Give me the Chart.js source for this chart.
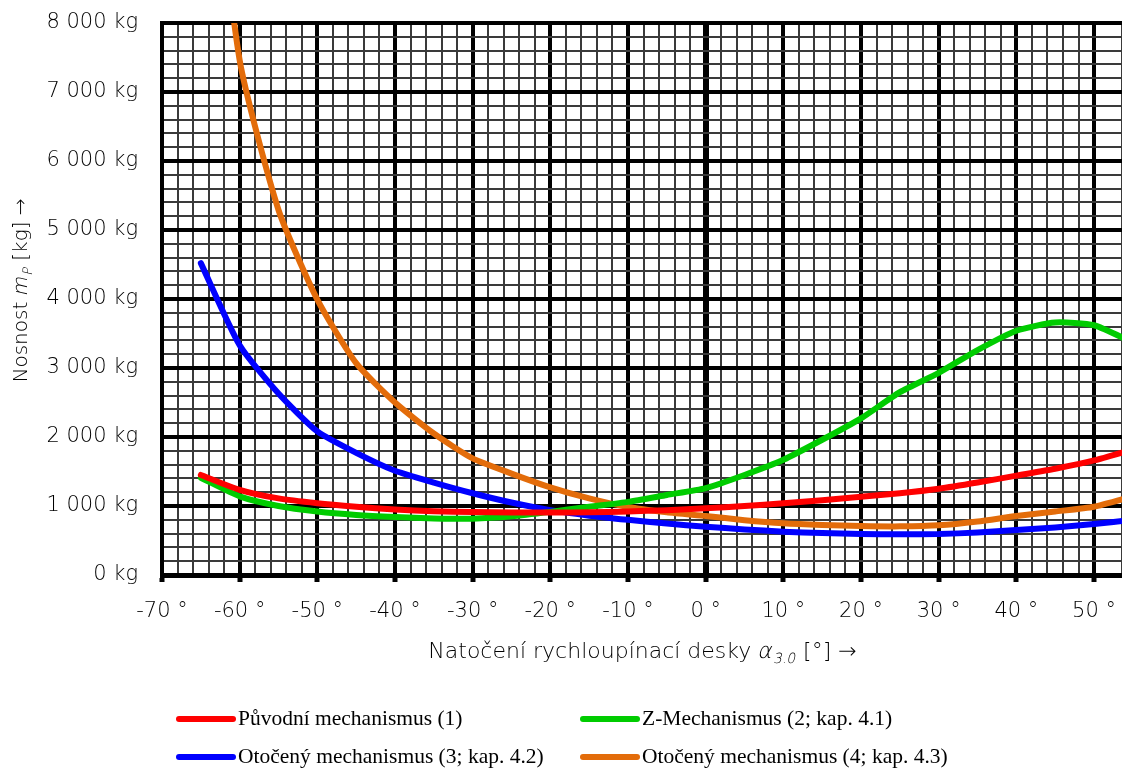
<!DOCTYPE html>
<html>
<head>
<meta charset="utf-8">
<script src="https://cdn.jsdelivr.net/npm/chart.js@4"></script>
<style>
  body { margin: 0; background: #fff; }
  #wrap { position: relative; width: 1122px; height: 773px; }
  #legend { position: absolute; left: 0; top: 0; width: 1122px; height: 773px; pointer-events: none;
            font-family: "Liberation Serif", "Times New Roman", serif; font-size: 21.5px; color: #000; }
  .item { position: absolute; display: flex; align-items: center; white-space: nowrap; }
  .swatch { width: 60px; height: 6px; border-radius: 3px; margin-right: 2px; }
</style>
</head>
<body>
<div id="wrap">
  <canvas id="chart" width="1122" height="773"></canvas>
  <div id="legend"></div>
</div>
<script>
// Data
const angles = [-65, -60, -55, -50, -45, -40, -35, -30, -25, -20, -15, -10, -5, 0, 5, 10, 15, 20, 25, 30, 35, 40, 45, 50, 55];
const puvodni = [1450, 1235, 1110, 1040, 990, 950, 925, 912, 905, 905, 910, 920, 940, 966, 1000, 1040, 1085, 1135, 1185, 1250, 1340, 1440, 1540, 1660, 1820];
const zMech = [1410, 1140, 1000, 920, 870, 840, 820, 815, 850, 915, 990, 1060, 1160, 1260, 1450, 1670, 1960, 2270, 2650, 2930, 3260, 3540, 3660, 3620, 3370];
const otoceny3 = [4520, 3330, 2630, 2080, 1770, 1510, 1340, 1185, 1050, 940, 860, 800, 745, 700, 660, 628, 608, 595, 590, 594, 615, 652, 690, 740, 800];
const otoceny4 = [12000, 7460, 5290, 3990, 3070, 2500, 2050, 1690, 1470, 1270, 1110, 985, 910, 855, 795, 750, 725, 710, 705, 720, 775, 855, 920, 990, 1140];

const labels = ['Původní mechanismus (1)', 'Z-Mechanismus (2; kap. 4.1)', 'Otočený mechanismus (3; kap. 4.2)', 'Otočený mechanismus (4; kap. 4.3)'];
const colors = ['#ff0000', '#00cc00', '#0000ff', '#e36c0a'];
const series = [puvodni, zMech, otoceny3, otoceny4];

const xMin = -70, xMax = 53.6;
const yMin = 0, yMax = 8000;

const tickFont = '"DejaVu Sans", sans-serif';

// Axis titles with slanted symbols and subscripts
const axisTitles = {
  id: 'axisTitles',
  afterDraw(chart) {
    const ctx = chart.ctx;
    const area = chart.chartArea;

    function drawParts(parts, cx, cy, size) {
      const big = '300 ' + size + 'px ' + tickFont;
      const small = '300 ' + Math.round(size * 0.64) + 'px ' + tickFont;
      let w = 0;
      parts.forEach(p => { ctx.font = p.sub ? small : big; w += ctx.measureText(p.text).width; });
      let x = cx - w / 2;
      parts.forEach(p => {
        ctx.font = p.sub ? small : big;
        ctx.save();
        ctx.translate(x, cy + (p.sub ? size * 0.32 : 0));
        if (p.slant) ctx.transform(1, 0, -0.22, 1, 0, 0);
        ctx.fillText(p.text, 0, 0);
        ctx.restore();
        x += ctx.measureText(p.text).width + (p.slant && !p.sub ? 1 : 0);
      });
    }

    ctx.save();
    ctx.fillStyle = '#000';
    ctx.textBaseline = 'middle';
    ctx.textAlign = 'left';
    drawParts([
      { text: 'Natočení rychloupínací desky ' },
      { text: 'α', slant: true },
      { text: '3.0', slant: true, sub: true },
      { text: ' [°] →' }
    ], (area.left + area.right) / 2, 652, 22);

    ctx.translate(22, 291);
    ctx.rotate(-Math.PI / 2);
    drawParts([
      { text: 'Nosnost ' },
      { text: 'm', slant: true },
      { text: 'P', slant: true, sub: true },
      { text: ' [kg] →' }
    ], 0, 0, 20);
    ctx.restore();
  }
};

new Chart(document.getElementById('chart'), {
  type: 'line',
  data: {
    datasets: series.map((s, i) => ({
      label: labels[i],
      data: angles.map((a, j) => ({ x: a, y: s[j] })),
      borderColor: colors[i],
      backgroundColor: colors[i],
      borderWidth: 6,
      pointRadius: 0,
      tension: 0.2,
      borderCapStyle: 'round',
      borderJoinStyle: 'round'
    }))
  },
  options: {
    responsive: false,
    animation: false,
    layout: { padding: { top: 23, left: 0, right: 0, bottom: 0 } },
    plugins: {
      legend: { display: false },
      tooltip: { enabled: false }
    },
    scales: {
      x: {
        type: 'linear',
        min: xMin,
        max: xMax,
        afterFit(axis) { axis.height = 198; axis.paddingLeft = 0; axis.paddingRight = 0; },
        border: { display: true, width: 5, color: '#000' },
        grid: {
          drawOnChartArea: true,
          lineWidth: c => c.tick.value % 10 === 0 ? (c.tick.value === 0 ? 6 : 4) : 2,
          color: c => c.tick.value % 10 === 0 ? '#000' : '#3a3a3a',
          tickLength: 7,
          tickWidth: 5,
          tickColor: c => c.tick && c.tick.value % 10 === 0 ? '#000' : 'rgba(0,0,0,0)'
        },
        ticks: {
          stepSize: 2,
          autoSkip: false,
          maxRotation: 0,
          padding: 17,
          color: '#000',
          font: { family: tickFont, size: 21, weight: 300 },
          callback: v => v % 10 === 0 ? v + ' °' : ''
        }
      },
      y: {
        min: yMin,
        max: yMax,
        afterFit(axis) { axis.width = 162; axis.paddingTop = 0; axis.paddingBottom = 0; },
        border: { display: true, width: 4, color: '#000' },
        grid: {
          drawTicks: false,
          lineWidth: c => c.tick.value % 1000 === 0 ? 4 : 2,
          color: c => c.tick.value % 1000 === 0 ? '#000' : '#3a3a3a'
        },
        ticks: {
          stepSize: 200,
          autoSkip: false,
          padding: 24,
          color: '#000',
          font: { family: tickFont, size: 21, weight: 300 },
          callback: v => v % 1000 !== 0 ? '' : (v === 0 ? '0 kg' : (v / 1000) + ' 000 kg')
        }
      }
    }
  },
  plugins: [axisTitles]
});

// Legend in two columns below the chart
const legend = document.getElementById('legend');
const spots = [[176, 719], [580, 719], [176, 757], [580, 757]];
labels.forEach((l, i) => {
  const item = document.createElement('div');
  item.className = 'item';
  item.style.left = spots[i][0] + 'px';
  item.style.top = (spots[i][1] - 13) + 'px';
  item.innerHTML = '<span class="swatch" style="background:' + colors[i] + '"></span>' + l;
  legend.appendChild(item);
});
</script>
</body>
</html>
